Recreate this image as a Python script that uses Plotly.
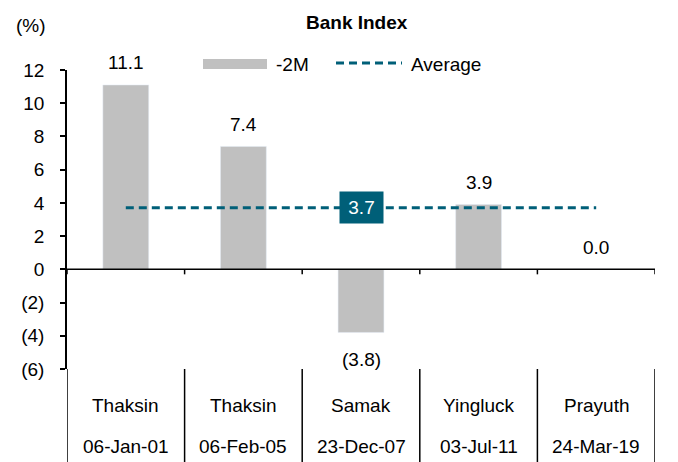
import plotly.graph_objects as go

# data
leaders = ["Thaksin", "Thaksin", "Samak", "Yingluck", "Prayuth"]
dates = ["06-Jan-01", "06-Feb-05", "23-Dec-07", "03-Jul-11", "24-Mar-19"]
change_2m = [11.1, 7.4, -3.8, 3.9, 0.0]
average = 3.7
y_ticks = [-6, -4, -2, 0, 2, 4, 6, 8, 10, 12]

GRAY = "#C0C0C0"
TEAL = "#005F78"
FONT = "Liberation Sans, Arial, sans-serif"
FS = 19


def fmt(v):
    return f"({abs(v):.1f})" if v < 0 else f"{v:.1f}"


def tick_fmt(v):
    return f"({abs(v)})" if v < 0 else str(v)


cats = list(dates)

fig = go.Figure()
fig.add_trace(go.Bar(x=cats, y=change_2m, marker_color=GRAY, width=0.39,
                     name="-2M", showlegend=False))
fig.add_trace(go.Scatter(x=cats, y=[average] * len(cats), mode="lines",
                         line=dict(color=TEAL, width=3, dash="8px,5px"),
                         name="Average", showlegend=False))

# target pixels in the 678x462 window; the page body adds an 8px offset
OFF = 8
W, H = 678, 462
L, R, T, B = 67, 655, 70, 369


def px_x(p):
    return (p - L) / (R - L)


def px_y(p):
    return (B - p) / (B - T)


def label(x, y, text, xref="paper", yref="paper", **kw):
    d = dict(x=x, y=y, xref=xref, yref=yref, text=text, showarrow=False,
             xanchor="center", yanchor="middle", font=dict(size=FS, color="black"))
    d.update(kw)
    return d


annotations = []
for c, v in zip(cats, change_2m):
    annotations.append(label(c, v, fmt(v), xref="x", yref="y", yshift=(-27 if v < 0 else 22)))

annotations.append(label(cats[2], average, fmt(average), xref="x", yref="y",
                         bgcolor=TEAL, font=dict(size=FS, color="white"),
                         borderpad=4, width=35, height=23))

for i, (n, d) in enumerate(zip(leaders, dates)):
    annotations.append(label(cats[i], px_y(405), n, xref="x"))
    annotations.append(label(cats[i], px_y(446), d, xref="x"))

annotations.append(label(px_x(357), px_y(22), "<b>Bank Index</b>", font=dict(size=19, color="black")))
annotations.append(label(px_x(31), px_y(25), "(%)"))
annotations.append(label(px_x(274), px_y(64), "-2M", xanchor="left"))
annotations.append(label(px_x(409), px_y(64), "Average", xanchor="left"))

shapes = []
# legend symbols
shapes.append(dict(type="rect", xref="paper", yref="paper", x0=px_x(203), x1=px_x(267),
                   y0=px_y(69), y1=px_y(59), fillcolor=GRAY, line=dict(width=0)))
shapes.append(dict(type="line", xref="paper", yref="paper", x0=px_x(336), x1=px_x(402),
                   y0=px_y(63), y1=px_y(63), line=dict(color=TEAL, width=3, dash="8px,5px")))
# zero line, category ticks and separators
shapes.append(dict(type="line", xref="paper", yref="y", x0=0, x1=1, y0=0, y1=0,
                   line=dict(color="black", width=1.5)))
n = len(cats)
for k in range(n + 1):
    xb = k - 0.5
    shapes.append(dict(type="line", xref="x", yref="y", x0=xb, x1=xb, y0=0, y1=-5,
                       ysizemode="pixel", yanchor=0, line=dict(color="black", width=1.5)))
    shapes.append(dict(type="line", xref="x", yref="paper", x0=xb, x1=xb, y0=0,
                       y1=px_y(H + 2), line=dict(color="black", width=1.5)))

fig.update_layout(
    width=W - OFF, height=H - OFF,
    margin=dict(l=L - OFF, r=W - R, t=T - OFF, b=H - B, pad=0),
    plot_bgcolor="white", paper_bgcolor="white",
    font=dict(family=FONT, size=FS, color="black"),
    annotations=annotations,
    shapes=shapes,
    xaxis=dict(range=[-0.5, n - 0.5], showticklabels=False, showgrid=False,
               zeroline=False, showline=False, ticks=""),
    yaxis=dict(range=[-6, 12], tickvals=y_ticks, ticktext=[tick_fmt(v) for v in y_ticks],
               showgrid=False, zeroline=False, showline=True, linecolor="black", linewidth=1.5,
               ticks="outside", ticklen=5, tickwidth=1.5, tickcolor="black",
               ticklabelstandoff=12, tickfont=dict(size=FS), automargin=False),
)

fig.write_html("out.html")
